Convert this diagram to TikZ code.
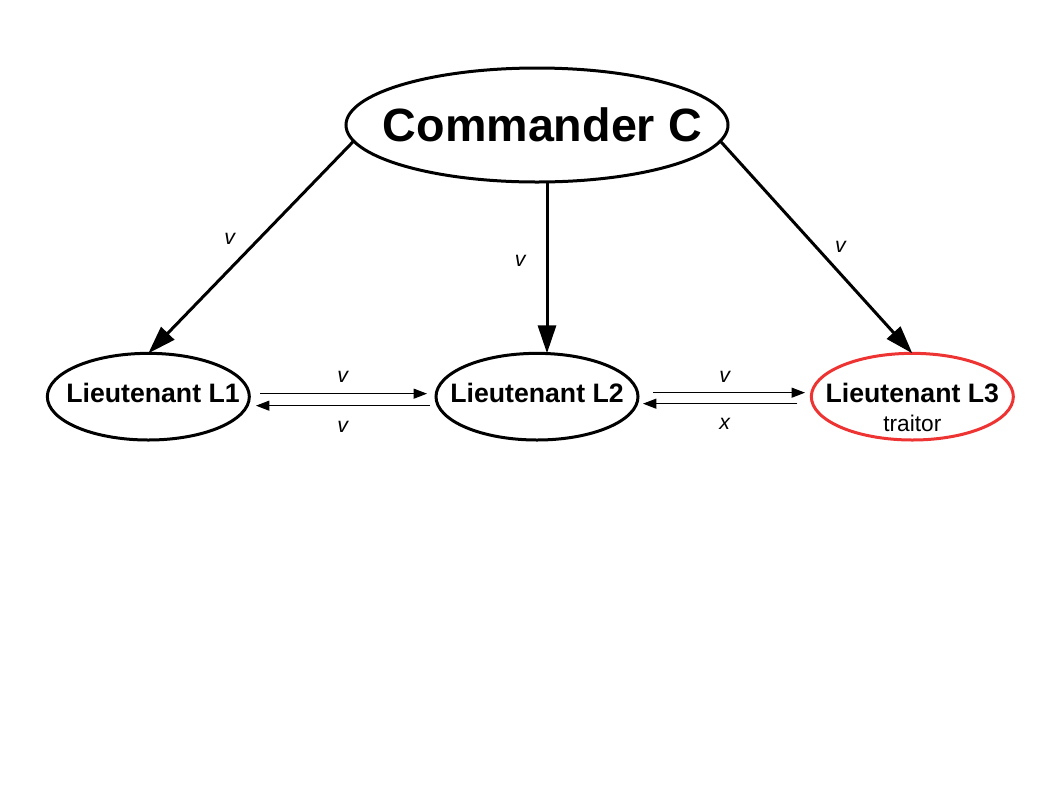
\documentclass[tikz,border=0pt]{standalone}
\usepackage{fontspec}
\setmainfont{Liberation Sans}
\usetikzlibrary{shapes,arrows,arrows.meta,positioning}
\definecolor{traitorred}{RGB}{238,51,51}
\def\Cmd{Commander C}

\begin{document}
\begin{tikzpicture}[x=0.75pt,y=-0.75pt,% List of styles, px units
			every node/.style={
				align=center	% so that "\\" breaks the line
			},
			every edge/.style={draw},
			rank/.style={ellipse,draw=black,line width=2.25pt,inner ysep=0pt,outer sep=0pt},
			lt/.style={rank,minimum width=151.5pt,minimum height=65pt,inner xsep=-18pt,
				font=\fontsize{20}{22}\selectfont\bfseries,text height=15pt,text depth=6pt},
			order/.style={-{Triangle[length=21pt,width=13.5pt]},line width=2.25pt},
			msg/.style={-{Triangle[length=10pt,width=7.5pt]},line width=0.75pt},
			lbl/.style={font=\fontsize{16}{16}\selectfont\itshape,inner sep=3pt}
		]
		\useasboundingbox (0,0) rectangle (1058,794);
		\node[rank,minimum width=286.5pt,minimum height=85.5pt,inner xsep=-30pt,
			font=\fontsize{35}{40}\selectfont\bfseries](C) at (537,125){\hspace*{8pt}\Cmd};
		\node[lt](L2)[below=128.5pt of C]{Lieutenant L2};
		\node[lt](L1)[left=140pt of L2]{\hspace*{7pt}Lieutenant L1};
		\node[lt,draw=traitorred,text height=55pt,text depth=2.5pt,inner ysep=-8pt](L3)[right=130pt of L2]{Lieutenant L3\\{\fontsize{17}{22}\selectfont\mdseries traitor}};
		% orders from the commander
		\path
		(C.185) edge [order] node [lbl,pos=.46,left=14pt] {v} (L1.north)
		([xshift=7.5pt]C.south) edge [order] node [lbl,pos=.46,left=12pt] {v} ([xshift=7.5pt]L2.north)
		(C.355) edge [order] node [lbl,pos=.5,right=10pt] {v} (L3.north)
		;
		% messages between lieutenants
		\path
		([yshift=2.25pt]L1.east) edge [msg,shorten <=8pt,shorten >=6.75pt] node [lbl,above=5pt] {v} ([yshift=2.25pt]L2.west)
		([yshift=-6.75pt]L2.west) edge [msg,shorten <=4.5pt,shorten >=5pt] node [lbl,below=8pt] {v} ([yshift=-6.75pt]L1.east)
		([yshift=3pt]L2.east) edge [msg,shorten <=11.25pt,shorten >=4.75pt] node [lbl,above=4.5pt] {v} ([yshift=3pt]L3.west)
		([yshift=-5.25pt]L3.west) edge [msg,shorten <=10.5pt,shorten >=3.75pt] node [lbl,below=7.5pt] {x} ([yshift=-5.25pt]L2.east)
		;
	\end{tikzpicture}
\end{document}
